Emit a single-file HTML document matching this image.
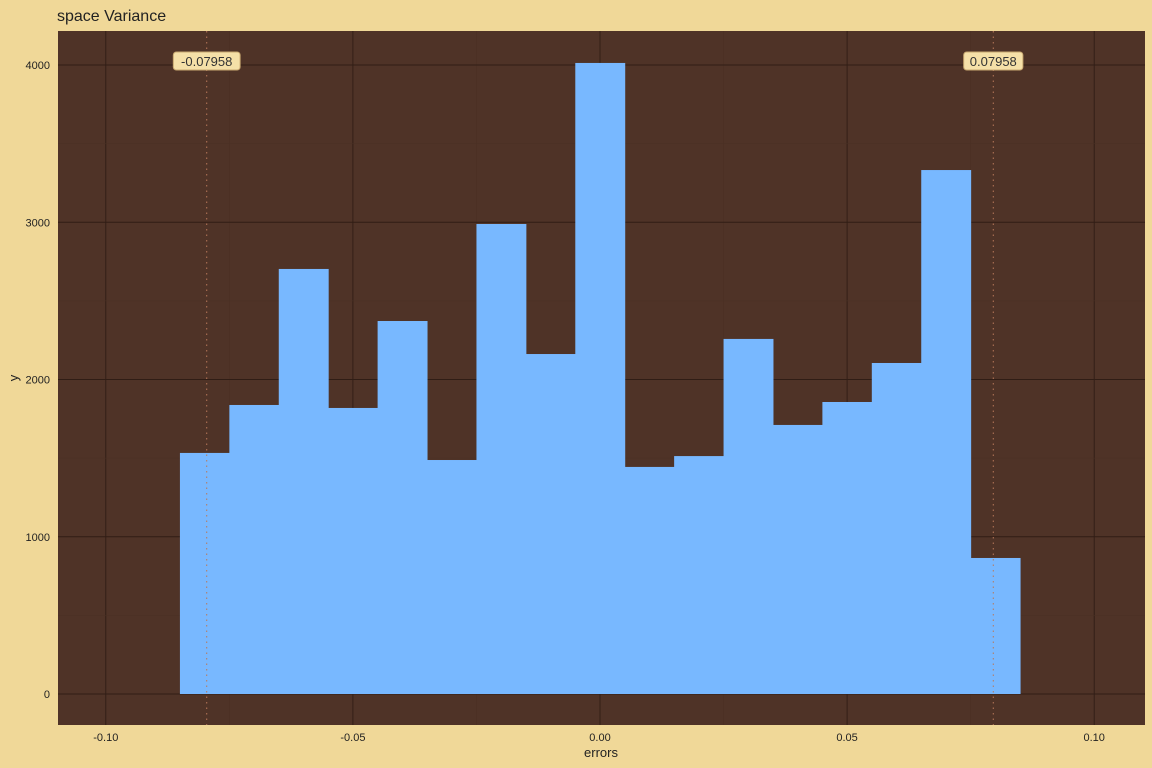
<!DOCTYPE html>
<html><head><meta charset="utf-8"><style>
body{margin:0;background:#f0d898;}
svg{display:block;font-family:"Liberation Sans",sans-serif;}
</style></head><body>
<svg id="c" width="1152" height="768">
<rect width="1152" height="768" fill="#f0d898"/>
<text x="57" y="21" font-size="16" fill="#222">space Variance</text>
<rect x="58" y="31" width="1087" height="694" fill="#4f3327"/>
<g id="grid"></g><g id="bars"></g><g id="vl"></g><g id="axes"></g>
<text x="601" y="757" font-size="13" fill="#222" text-anchor="middle">errors</text>
<text x="18" y="378" font-size="13" fill="#222" text-anchor="middle" transform="rotate(-90 18 378)">y</text>
</svg>
<script>
const binCenters=[-0.08,-0.07,-0.06,-0.05,-0.04,-0.03,-0.02,-0.01,0,0.01,0.02,0.03,0.04,0.05,0.06,0.07,0.08];
const counts=[1533,1838,2703,1819,2372,1488,2989,2162,4013,1444,1513,2258,1711,1857,2105,3332,865];
const binWidth=0.01;
const xTicks=[-0.10,-0.05,0,0.05,0.10];
const xTickLabels=["-0.10","-0.05","0.00","0.05","0.10"];
const yTicks=[0,1000,2000,3000,4000];
const vLines=[-0.07958,0.07958];
const vLabels=["-0.07958","0.07958"];
const NS="http://www.w3.org/2000/svg";
const X=v=>600+v*4942, Y=v=>694-v*0.15725;
function mk(p,t,a){const e=document.createElementNS(NS,t);for(const k in a)e.setAttribute(k,a[k]);document.getElementById(p).appendChild(e);return e;}
xTicks.forEach((t,i)=>{
 const l=mk('grid','line',{x1:X(t),x2:X(t),y1:31,y2:725,stroke:'#301d15','stroke-width':0.9});
 
 
 if(i<xTicks.length-1){const m=mk('grid','line',{x1:X(t+0.025),x2:X(t+0.025),y1:31,y2:725,stroke:'#4a3024','stroke-width':0.6});
 
 }
 const tx=mk('axes','text',{x:X(t),y:741,'font-size':11,fill:'#222','text-anchor':'middle'});tx.textContent=xTickLabels[i];
 
 
});
yTicks.forEach((t,i)=>{
 const l=mk('grid','line',{x1:58,x2:1145,y1:Y(t),y2:Y(t),stroke:'#301d15','stroke-width':0.9});
 
 
 const m=mk('grid','line',{x1:58,x2:1145,y1:Y(t+500),y2:Y(t+500),stroke:'#4a3024','stroke-width':0.6});
 
 
 const tx=mk('axes','text',{x:50,y:Y(t)+4,'font-size':11,fill:'#222','text-anchor':'end'});tx.textContent=String(t);
 
 
});
binCenters.forEach((c,i)=>{
 const r=mk('bars','rect',{x:X(c-binWidth/2),y:Y(counts[i]),width:X(c+binWidth/2)-X(c-binWidth/2)+0.5,height:Y(0)-Y(counts[i]),fill:'#78b8ff'});
 
 
});
vLines.forEach((v,i)=>{
 const l=mk('vl','line',{x1:X(v),x2:X(v),y1:31,y2:725,stroke:'#b8785a','stroke-width':1,'stroke-dasharray':'1.5 4'});
 
 
 const w=vLabels[i].length*7.6+6;
 const b=mk('vl','rect',{x:X(v)-w/2,y:52,width:w,height:18,rx:3,fill:'#f5e0a8',stroke:'#c8a870'});
 
 
 const t=mk('vl','text',{x:X(v),y:66,'font-size':13,fill:'#333','text-anchor':'middle'});t.textContent=vLabels[i];
 
 
});
</script>
</body></html>
